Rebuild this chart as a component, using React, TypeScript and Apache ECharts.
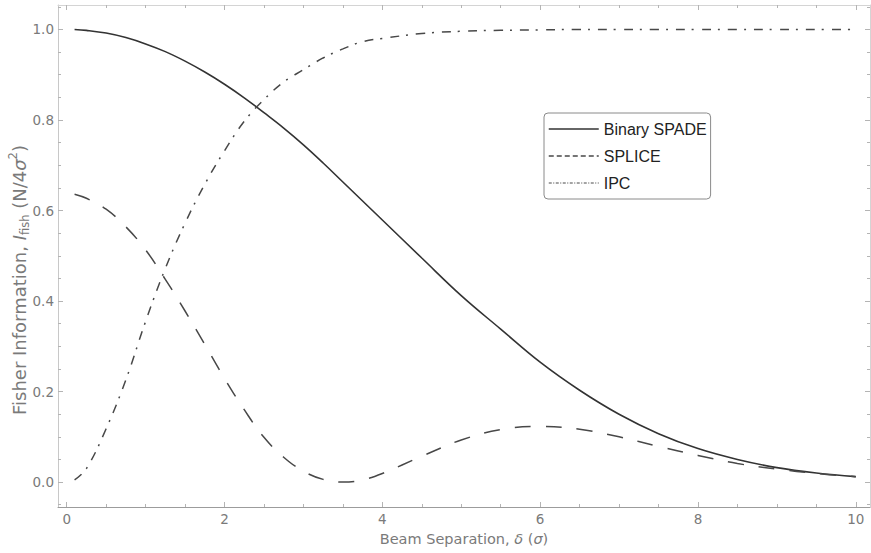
import React, { useEffect, useRef } from "react";
import * as echarts from "echarts";

const separation = [0.1, 0.25, 0.5, 0.75, 1, 1.25, 1.5, 1.75, 2, 2.25, 2.5, 2.75, 3, 3.25, 3.5, 3.75, 4, 4.5, 5, 5.5, 6, 6.5, 7, 7.5, 8, 8.5, 9, 9.5, 10];
const binarySpade = [1.0, 0.998, 0.992, 0.982, 0.968, 0.951, 0.93, 0.906, 0.879, 0.849, 0.816, 0.782, 0.745, 0.705, 0.663, 0.621, 0.579, 0.495, 0.412, 0.338, 0.265, 0.203, 0.15, 0.107, 0.074, 0.05, 0.032, 0.02, 0.012];
const splice = [0.636, 0.627, 0.603, 0.564, 0.513, 0.448, 0.378, 0.304, 0.229, 0.16, 0.099, 0.055, 0.024, 0.006, 0.0, 0.005, 0.019, 0.057, 0.093, 0.116, 0.123, 0.117, 0.1, 0.079, 0.059, 0.041, 0.029, 0.019, 0.012];
const ipc = [0.005, 0.03, 0.118, 0.226, 0.355, 0.472, 0.572, 0.658, 0.732, 0.797, 0.845, 0.884, 0.911, 0.937, 0.957, 0.973, 0.98, 0.991, 0.996, 0.998, 0.999, 1.0, 1.0, 1.0, 1.0, 1.0, 1.0, 1.0, 1.0];

const xMajorTicks = [0, 2, 4, 6, 8, 10];
const xMinorTicks = [0.5, 1, 1.5, 2.5, 3, 3.5, 4.5, 5, 5.5, 6.5, 7, 7.5, 8.5, 9, 9.5, 10];
const yMajorTicks = [0, 0.2, 0.4, 0.6, 0.8, 1.0];
const yMinorTicks = [-0.05, 0.05, 0.1, 0.15, 0.25, 0.3, 0.35, 0.45, 0.5, 0.55, 0.65, 0.7, 0.75, 0.85, 0.9, 0.95, 1.05];

const LEGEND_FONT = "'Liberation Sans', Arial, sans-serif";
const AXIS_FONT = "'DejaVu Sans', 'Liberation Sans', sans-serif";
const FRAME = "#b4b4b4";
const LABEL = "#7a7a7a";

const X_MIN = -0.11, X_MAX = 10.18, Y_MIN = -0.055, Y_MAX = 1.054;

function frameAxis(kind: "x" | "y", position: string, ticks: number[], len: number, opts: any = {}) {
  return {
    type: "value",
    position,
    min: kind === "x" ? X_MIN : Y_MIN,
    max: kind === "x" ? X_MAX : Y_MAX,
    axisLine: { show: opts.line ?? false, onZero: false, lineStyle: { color: opts.lineColor || FRAME, width: 1 } },
    axisTick: { show: true, inside: true, length: len, customValues: ticks, lineStyle: { color: FRAME, width: 1 } },
    axisLabel: opts.label
      ? { show: true, customValues: ticks, ...opts.label }
      : { show: false },
    splitLine: { show: false },
    ...(opts.name || {}),
  };
}

export default function App() {
  const ref = useRef<HTMLDivElement>(null);
  useEffect(() => {
    if (!ref.current) return;
    const chart = echarts.init(ref.current, null, { renderer: "svg" });
    const zip = (vals: number[]) => separation.map((d, i) => [d, vals[i]]);
    const yNameSize = 18;
    chart.setOption({
      animation: false,
      backgroundColor: "#ffffff",
      grid: { left: 58, right: 1, top: 5, bottom: 46 },
      graphic: [
        {
          type: "text",
          x: 19,
          y: 280,
          rotation: Math.PI / 2,
          style: {
            text: "{n|Fisher Information, }{i|I}{s|fish}{n| (N/4}{i|σ}{p|2}{n|)}",
            align: "center",
            verticalAlign: "middle",
            rich: {
              n: { fontFamily: AXIS_FONT, fontSize: yNameSize, fill: LABEL, lineHeight: 24, verticalAlign: "middle" },
              i: { fontFamily: AXIS_FONT, fontSize: yNameSize, fill: LABEL, lineHeight: 24, verticalAlign: "middle", fontStyle: "italic" },
              s: { fontFamily: AXIS_FONT, fontSize: 11.5, fill: LABEL, lineHeight: 24, verticalAlign: "bottom" },
              p: { fontFamily: AXIS_FONT, fontSize: 11.5, fill: LABEL, lineHeight: 24, verticalAlign: "top" },
            },
          },
        },
      ],
      legend: {
        orient: "vertical",
        left: 544,
        top: 113,
        itemWidth: 50,
        itemHeight: 16,
        itemGap: 11,
        padding: [8, 4, 8, 4],
        borderColor: "#8a8a8a",
        borderWidth: 1,
        borderRadius: 4,
        backgroundColor: "#ffffff",
        itemStyle: { opacity: 0 },
        textStyle: { fontFamily: LEGEND_FONT, fontSize: 16, color: "#222" },
        data: [
          { name: "Binary SPADE", lineStyle: { type: "solid", width: 1.5 } },
          { name: "SPLICE", lineStyle: { type: [5, 3], width: 1.5 } },
          { name: "IPC", lineStyle: { type: [3, 1.5, 1, 1.5], width: 1 } },
        ],
      },
      xAxis: [
        frameAxis("x", "bottom", xMajorTicks, 5, {
          line: true,
          lineColor: "#9c9c9c",
          label: { color: LABEL, fontFamily: AXIS_FONT, fontSize: 13.5, margin: 5, formatter: (v: number) => String(Math.round(v)) },
          name: {
            name: "{n|Beam Separation, }{i|δ}{n| (}{i|σ}{n|)}",
            nameLocation: "middle",
            nameGap: 24,
            nameTextStyle: {
              rich: {
                n: { fontFamily: AXIS_FONT, fontSize: 14.5, color: LABEL },
                i: { fontFamily: AXIS_FONT, fontSize: 14.5, color: LABEL, fontStyle: "italic" },
              },
            },
          },
        }),
        frameAxis("x", "bottom", xMinorTicks, 3),
        frameAxis("x", "top", xMajorTicks, 5, { line: true, lineColor: "#d4d4d4" }),
        frameAxis("x", "top", xMinorTicks, 3),
      ],
      yAxis: [
        frameAxis("y", "left", yMajorTicks, 5, {
          line: true,
          lineColor: "#c8c8c8",
          label: { color: LABEL, fontFamily: AXIS_FONT, fontSize: 13.5, margin: 4, formatter: (v: number) => v.toFixed(1) },
        }),
        frameAxis("y", "left", yMinorTicks, 3),
        frameAxis("y", "right", yMajorTicks, 5, { line: true, lineColor: "#d4d4d4" }),
        frameAxis("y", "right", yMinorTicks, 3),
      ],
      series: [
        {
          name: "Binary SPADE",
          type: "line",
          data: zip(binarySpade),
          smooth: 0.4,
          symbol: "none",
          lineStyle: { color: "#333333", width: 1.6, type: "solid" },
          itemStyle: { color: "#333333" },
        },
        {
          name: "SPLICE",
          type: "line",
          data: zip(splice),
          smooth: 0.4,
          symbol: "none",
          lineStyle: { color: "#484848", width: 1.5, type: [16, 15] },
          itemStyle: { color: "#484848" },
        },
        {
          name: "IPC",
          type: "line",
          data: zip(ipc),
          smooth: 0.4,
          symbol: "none",
          lineStyle: { color: "#484848", width: 1.5, type: [9, 7, 2, 8] },
          itemStyle: { color: "#484848" },
        },
      ],
    });
    return () => chart.dispose();
  }, []);
  return <div ref={ref} style={{ width: 871, height: 553, position: "absolute", left: 0, top: 0 }} />;
}
